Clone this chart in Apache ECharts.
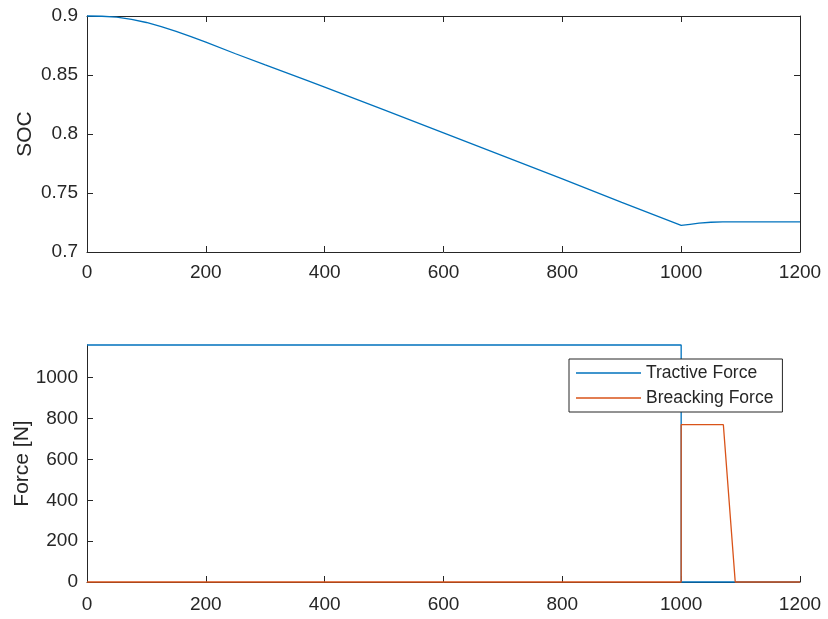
<!DOCTYPE html>
<html>
<head>
<meta charset="utf-8">
<script src="https://cdn.jsdelivr.net/npm/echarts@6/dist/echarts.min.js"></script>
<style>
  html, body { margin: 0; padding: 0; background: #fff; }
  #chart { width: 828px; height: 619px; }
</style>
</head>
<body>
<div id="chart"></div>
<script>
// SOC trace (top)
const socTime = [0, 25, 50, 75, 100, 125, 150, 175, 200, 250, 300, 370, 400, 500, 600, 700, 800, 900, 1000, 1003, 1015, 1030, 1050, 1070, 1200]
const socValue = [0.9, 0.8998, 0.899, 0.8972, 0.8945, 0.891, 0.887, 0.8825, 0.8778, 0.868, 0.8585, 0.8455, 0.8398, 0.8205, 0.801, 0.7815, 0.762, 0.742, 0.7225, 0.722, 0.7235, 0.7245, 0.7252, 0.7256, 0.7256]

// forces (bottom)
const tractiveTime = [0, 1000, 1000, 1200]
const tractiveForce = [1160, 1160, 0, 0]
const brakingTime = [0, 1000, 1000, 1071, 1091, 1200]
const brakingForce = [0, 0, 770, 770, 0, 0]

const forceTicks = [0, 200, 400, 600, 800, 1000]
const legendNames = ['Tractive Force', 'Breacking Force']

const axisColor = '#262626'
const font = 'Liberation Sans, Arial, Helvetica, sans-serif'
const pair = (xs, ys) => xs.map((x, i) => [x, ys[i]])
const plain = v => String(v)

const chart = echarts.init(document.getElementById('chart'))

const lineStyle = { color: axisColor, width: 1 }
const tick = { show: true, inside: true, length: 6, lineStyle: lineStyle }
const label = { color: axisColor, fontSize: 19, fontFamily: font, formatter: plain }
const nameStyle = { color: axisColor, fontSize: 21, fontFamily: font }

chart.setOption({
  animation: false,
  backgroundColor: '#fff',
  grid: [
    { left: 87, top: 16, width: 713, height: 236, outerBoundsMode: 'none', containLabel: false },
    { left: 87, top: 345, width: 713, height: 237, outerBoundsMode: 'none', containLabel: false }
  ],
  xAxis: [
    {
      type: 'value', gridIndex: 0, min: 0, max: 1200, interval: 200,
      axisLine: { show: true, onZero: false, lineStyle: lineStyle },
      axisTick: tick, splitLine: { show: false },
      axisLabel: Object.assign({ margin: 11 }, label)
    },
    {
      type: 'value', gridIndex: 0, position: 'top', min: 0, max: 1200, interval: 200,
      axisLine: { show: true, onZero: false, lineStyle: lineStyle },
      axisTick: tick, splitLine: { show: false }, axisLabel: { show: false }
    },
    {
      type: 'value', gridIndex: 1, min: 0, max: 1200, interval: 200,
      axisLine: { show: true, onZero: false, lineStyle: lineStyle },
      axisTick: tick, splitLine: { show: false },
      axisLabel: Object.assign({ margin: 13 }, label)
    }
  ],
  yAxis: [
    {
      type: 'value', gridIndex: 0, min: 0.7, max: 0.9, interval: 0.05,
      name: 'SOC', nameLocation: 'middle', nameGap: 51, nameMoveOverlap: false,
      nameTextStyle: nameStyle,
      axisLine: { show: true, onZero: false, lineStyle: lineStyle },
      axisTick: tick, splitLine: { show: false },
      axisLabel: Object.assign({ margin: 9 }, label)
    },
    {
      type: 'value', gridIndex: 0, position: 'right', min: 0.7, max: 0.9, interval: 0.05,
      axisLine: { show: true, onZero: false, lineStyle: lineStyle },
      axisTick: tick, splitLine: { show: false }, axisLabel: { show: false }
    },
    {
      type: 'value', gridIndex: 1, min: 0, max: 1160,
      name: 'Force [N]', nameLocation: 'middle', nameGap: 54, nameMoveOverlap: false,
      nameTextStyle: nameStyle,
      axisLine: { show: true, onZero: false, lineStyle: lineStyle },
      axisTick: Object.assign({ customValues: forceTicks }, tick),
      splitLine: { show: false },
      axisLabel: Object.assign({ margin: 9, customValues: forceTicks }, label)
    }
  ],
  legend: {
    data: legendNames,
    orient: 'vertical',
    left: 569, top: 359,
    padding: [5, 9, 5, 7],
    itemGap: 7,
    icon: 'rect',
    itemWidth: 65, itemHeight: 1.6,
    borderColor: axisColor, borderWidth: 1, borderRadius: 0,
    backgroundColor: '#fff',
    textStyle: { color: axisColor, fontSize: 17.5, fontFamily: font }
  },
  series: [
    {
      type: 'line', xAxisIndex: 0, yAxisIndex: 0,
      data: pair(socTime, socValue),
      showSymbol: false, symbol: 'none', clip: false,
      lineStyle: { color: '#0072BD', width: 1.3 },
      itemStyle: { color: '#0072BD' }
    },
    {
      name: legendNames[0],
      type: 'line', xAxisIndex: 2, yAxisIndex: 2,
      data: pair(tractiveTime, tractiveForce),
      showSymbol: false, symbol: 'none', clip: false,
      lineStyle: { color: '#0072BD', width: 1.3 },
      itemStyle: { color: '#0072BD' }
    },
    {
      name: legendNames[1],
      type: 'line', xAxisIndex: 2, yAxisIndex: 2,
      data: pair(brakingTime, brakingForce),
      showSymbol: false, symbol: 'none', clip: false,
      lineStyle: { color: '#D95319', width: 1.3 },
      itemStyle: { color: '#D95319' }
    }
  ]
})
</script>
</body>
</html>
